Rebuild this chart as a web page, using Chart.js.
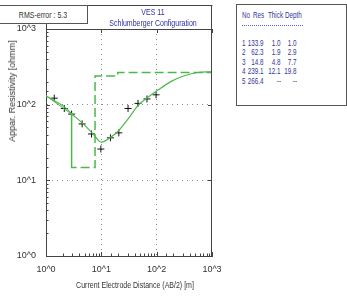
<!DOCTYPE html>
<html lang="en">
<head>
    <meta charset="UTF-8">
    <title>VES 11</title>
    <script src="https://cdn.jsdelivr.net/npm/chart.js"></script>
    <style>
        body { margin: 0; background: #fff; font-family: "Liberation Sans", Arial, sans-serif; }
        #wrap { position: relative; width: 347px; height: 297px; overflow: hidden; }
        #ves-chart { position: absolute; left: 0; top: 0; }
        .c { position: absolute; white-space: nowrap; font-size: 9px; line-height: 10px;
             transform: translate(-50%, -50%) scaleX(0.78); color: #333; }
        .cell { position: absolute; white-space: nowrap; font-size: 9px; line-height: 10px; color: #35359a; }
        #rms-box { position: absolute; left: -1px; top: 5px; width: 87px; height: 17px;
                   border: 1px solid #555; background: #fff; }
        #table-box { position: absolute; left: 236px; top: 4px; width: 109px; height: 100px;
                     border: 1px solid #555; background: #fff; }
        #table-rule { position: absolute; left: 242px; top: 25px; width: 61px; border-top: 1px dotted #5b5bd0; }
    </style>
</head>
<body>
<div id="wrap">
    <canvas id="ves-chart" width="347" height="297"></canvas>

    <!-- RMS box and title -->
    <div id="rms-box"></div>
    <div class="c" style="left:43px; top:15px;">RMS-error : 5.3</div>
    <div class="c" style="left:153px; top:12px; color:#2e2e9e;">VES 11</div>
    <div class="c" style="left:153px; top:23px; color:#2e2e9e;">Schlumberger Configuration</div>

    <!-- axis titles -->
    <div class="c" style="left:135px; top:285px;">Current Electrode Distance (AB/2) [m]</div>
    <div class="c" style="left:12px; top:91px; transform: translate(-50%, -50%) rotate(-90deg);">Appar. Resistivity [ohmm]</div>

    <!-- layer table -->
    <div id="table-box"></div>
    <div id="table-rule"></div>
</div>

<script>
    // measured apparent resistivity (crosses)
    const obsAB2 = [1.41, 2.14, 2.9, 4.5, 6.65, 9.8, 14.6, 20.7, 30.4, 46, 66.8, 97.5];
    const obsRho = [122, 89, 75, 55.7, 41, 25.9, 36.5, 42.4, 89, 104, 119, 135];

    // calculated curve (solid green)
    const fitAB2 = [1, 1.79, 2.2, 2.9, 4.7, 7.1, 10.06, 14.3, 20.1, 30.5, 46, 69.5, 105.5, 183, 317, 553, 1000];
    const fitRho = [131, 102, 92, 76, 55.7, 41, 31.9, 36.5, 44.5, 64.9, 97, 125, 156, 203, 241, 266, 272];

    // layered model (dashed green)
    const modelDepth = [1, 2.9, 2.9, 7.7, 7.7, 19.8, 19.8, 1000];
    const modelRho = [131, 75, 14.8, 14.8, 239.1, 239.1, 266.4, 266.4];

    // axis tick labels
    const decadeLabels = ['10^0', '10^1', '10^2', '10^3'];

    // layer table
    const tableHead = ['No', 'Res', 'Thick', 'Depth'];
    const layerNo = ['1', '2', '3', '4', '5'];
    const layerRes = ['133.9', '62.3', '14.8', '239.1', '266.4'];
    const layerThick = ['1.0', '1.9', '4.8', '12.1', '--'];
    const layerDepth = ['1.0', '2.9', '7.7', '19.8', '--'];

    // build the table text
    const wrap = document.getElementById('wrap');
    function addCell(text, x, y, align) {
        const el = document.createElement('div');
        el.className = 'cell';
        el.textContent = text;
        el.style.top = (y - 5) + 'px';
        if (align === 'right') {
            el.style.right = (347 - x) + 'px';
            el.style.transformOrigin = 'right center';
        } else {
            el.style.left = x + 'px';
            el.style.transformOrigin = 'left center';
        }
        el.style.transform = 'scaleX(0.7)';
        wrap.appendChild(el);
    }
    const headX = [241.5, 253, 267.5, 285];
    tableHead.forEach((h, i) => addCell(h, headX[i], 15, 'left'));
    layerNo.forEach((n, i) => {
        const y = 43 + i * 9.4;
        addCell(n, 241.5, y, 'left');
        addCell(layerRes[i], 264, y, 'right');
        addCell(layerThick[i], 280.5, y, 'right');
        addCell(layerDepth[i], 296.5, y, 'right');
    });

    const isDecade = v => {
        const l = Math.log10(v);
        return Math.abs(l - Math.round(l)) < 1e-9;
    };

    // frame, title box and inner tick marks
    const framePlugin = {
        id: 'frame',
        afterDraw(chart) {
            const { ctx, chartArea: a, scales } = chart;
            ctx.save();
            ctx.strokeStyle = '#444';
            ctx.lineWidth = 1;
            ctx.beginPath();
            ctx.moveTo(0, 5.5); ctx.lineTo(a.right + 0.5, 5.5);
            ctx.moveTo(a.right - 0.5, 5); ctx.lineTo(a.right - 0.5, a.bottom);
            ctx.moveTo(a.left + 0.5, 22); ctx.lineTo(a.left + 0.5, a.top);
            ctx.moveTo(a.left, a.top + 0.5); ctx.lineTo(a.right, a.top + 0.5);
            ctx.stroke();

            ctx.beginPath();
            scales.x.ticks.forEach(t => {
                const px = Math.round(scales.x.getPixelForValue(t.value)) + 0.5;
                const len = isDecade(t.value) ? 4 : 2.5;
                ctx.moveTo(px, a.bottom); ctx.lineTo(px, a.bottom - len);
                if (isDecade(t.value)) { ctx.moveTo(px, a.top); ctx.lineTo(px, a.top + len); }
            });
            scales.y.ticks.forEach(t => {
                const py = Math.round(scales.y.getPixelForValue(t.value)) + 0.5;
                const len = isDecade(t.value) ? 4 : 2.5;
                ctx.moveTo(a.left, py); ctx.lineTo(a.left + len, py);
                if (isDecade(t.value)) { ctx.moveTo(a.right, py); ctx.lineTo(a.right - len, py); }
            });
            ctx.stroke();
            ctx.restore();
        }
    };

    const tickLabel = v => isDecade(v) ? decadeLabels[Math.round(Math.log10(v))] : '';
    const gridColor = c => (c.tick && isDecade(c.tick.value) && c.tick.value > 1 && c.tick.value < 1000) ? '#8a8a8a' : 'rgba(0,0,0,0)';

    const ctx = document.getElementById('ves-chart').getContext('2d');
    new Chart(ctx, {
        type: 'scatter',
        data: {
            datasets: [
                {
                    label: 'Model',
                    data: modelDepth.map((d, i) => ({ x: d, y: modelRho[i] })),
                    showLine: true,
                    borderColor: '#4cb84c',
                    borderWidth: 1.5,
                    pointRadius: 0,
                    tension: 0,
                    segment: {
                        borderDash: c => c.p0DataIndex === 0 ? [] : [9, 4],
                        borderWidth: c => c.p0DataIndex === 0 ? 1 : 1.5
                    }
                },
                {
                    label: 'Calculated',
                    data: fitAB2.map((d, i) => ({ x: d, y: fitRho[i] })),
                    showLine: true,
                    borderColor: '#4cb84c',
                    borderWidth: 1.2,
                    pointRadius: 0,
                    cubicInterpolationMode: 'monotone'
                },
                {
                    label: 'Measured',
                    data: obsAB2.map((d, i) => ({ x: d, y: obsRho[i] })),
                    showLine: false,
                    pointStyle: 'cross',
                    pointRadius: 3.5,
                    borderColor: '#111',
                    borderWidth: 1
                }
            ]
        },
        options: {
            responsive: false,
            animation: false,
            layout: { padding: { top: 29, right: 135, left: 0, bottom: 0 } },
            plugins: { legend: { display: false }, tooltip: { enabled: false } },
            scales: {
                x: {
                    type: 'logarithmic',
                    min: 1,
                    max: 1000,
                    afterFit: s => { s.height = 41; },
                    grid: { color: gridColor, drawTicks: false },
                    border: { display: true, color: '#444', width: 1, dash: [1, 4] },
                    ticks: {
                        callback: tickLabel,
                        autoSkip: false,
                        maxRotation: 0,
                        padding: 8,
                        color: '#333',
                        font: { family: 'Liberation Sans', size: 9 }
                    }
                },
                y: {
                    type: 'logarithmic',
                    min: 1,
                    max: 1000,
                    afterFit: s => { s.width = 46; },
                    grid: { color: gridColor, drawTicks: false },
                    border: { display: true, color: '#444', width: 1, dash: [1, 4] },
                    ticks: {
                        callback: tickLabel,
                        autoSkip: false,
                        padding: 10,
                        color: '#333',
                        font: { family: 'Liberation Sans', size: 9 }
                    }
                }
            }
        },
        plugins: [framePlugin]
    });
</script>
</body>
</html>
